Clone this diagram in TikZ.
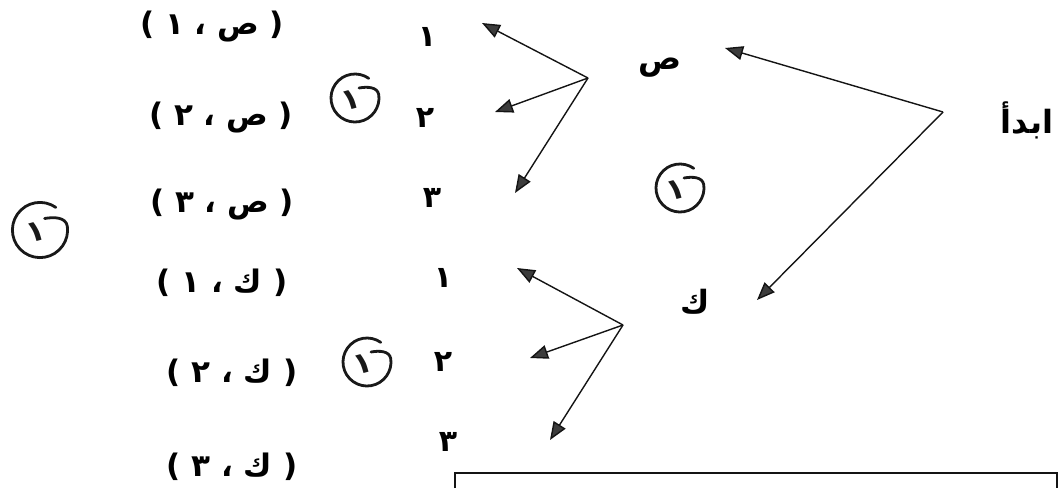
\documentclass[tikz,border=0pt]{standalone}
\usepackage{fontspec}
\usetikzlibrary{arrows.meta}
\TeXXeTstate=1
\newfontfamily\arabicfont[Script=Arabic]{DejaVu Sans}
\definecolor{linecol}{RGB}{20, 20, 20}
\definecolor{headcol}{RGB}{60, 60, 60}
\definecolor{penink}{RGB}{25, 25, 25}
\tikzset{
  lbl/.style   = {font=\arabicfont\bfseries\fontsize{16}{18}\selectfont,
                  inner sep=1pt},
  pair/.style  = {font=\arabicfont\bfseries\fontsize{15.5}{18}\selectfont,
                  inner sep=1pt},
  digit/.style = {font=\arabicfont\bfseries\fontsize{15}{17}\selectfont,
                  inner sep=1pt},
  fan/.style   = {-{Triangle[length=9pt, width=7pt, fill=headcol]},
                  draw=linecol, line width=0.7pt},
  frame/.style = {draw=linecol, line width=1pt},
  % the hand written marks in the margin
  pics/handone/.style = {code={
      \draw[penink, line width=1.4pt, line cap=round]
        (55:12pt) arc[start angle=55, end angle=368, radius=12pt]
        to[out=100, in=10] (2pt,5pt);
      \node[font=\arabicfont\bfseries\fontsize{15}{17}\selectfont, rotate=15,
            inner sep=0pt, text=penink] at (-2pt,-1pt) {١};
  }},
}

\begin{document}
\begin{tikzpicture}[x=0.5pt, y=-0.5pt]
  \useasboundingbox (0,0) rectangle (1061,488);

  %% ---------------- start ----------------
  \node[lbl] (start) at (1027,120) {\beginR ابدأ\endR};
  \coordinate (startfork) at (943,112);
  \coordinate (sadtip) at (725,48);
  \coordinate (kaftip) at (757,300);

  \node[lbl] (sad) at (660,68) {\beginR ص\endR};
  \node[lbl] (kaf) at (695,302) {\beginR ك\endR};

  %% ---------------- second level ----------------
  \node[digit] (s1) at (427,37)  {\beginR ١\endR};
  \node[digit] (s2) at (425,118) {\beginR ٢\endR};
  \node[digit] (s3) at (432,198) {\beginR ٣\endR};
  \node[digit] (k1) at (443,278) {\beginR ١\endR};
  \node[digit] (k2) at (443,362) {\beginR ٢\endR};
  \node[digit] (k3) at (448,442) {\beginR ٣\endR};

  \coordinate (sadfork) at (588,78);
  \coordinate (s1tip) at (482,23);
  \coordinate (s2tip) at (495,112);
  \coordinate (s3tip) at (515,193);
  \coordinate (kaffork) at (623,325);
  \coordinate (k1tip) at (517,268);
  \coordinate (k2tip) at (530,358);
  \coordinate (k3tip) at (550,440);

  %% ---------------- outcomes ----------------
  \node[pair] (p1) at (212,27)  {\beginR( ص ، ١ )\endR};
  \node[pair] (p2) at (221,118) {\beginR( ص ، ٢ )\endR};
  \node[pair] (p3) at (222,205) {\beginR( ص ، ٣ )\endR};
  \node[pair] (p4) at (222,283) {\beginR( ك ، ١ )\endR};
  \node[pair] (p5) at (232,373) {\beginR( ك ، ٢ )\endR};
  \node[pair] (p6) at (232,467) {\beginR( ك ، ٣ )\endR};

  % marks added by hand
  \pic at (355,98)  {handone};
  \pic at (680,188) {handone};
  \pic[scale=1.15] at (40,230) {handone};
  \pic at (367,362) {handone};

  %% ---------------- arrows ----------------
  \draw[fan] (startfork) -- (sadtip);
  \draw[fan] (startfork) -- (kaftip);
  \foreach \t in {s1tip, s2tip, s3tip}
    \draw[fan] (sadfork) -- (\t);
  \foreach \t in {k1tip, k2tip, k3tip}
    \draw[fan] (kaffork) -- (\t);

  % box cut off by the page edge
  \draw[frame] (455,488) |- (1057,473) -- (1057,488);

\end{tikzpicture}
\end{document}
